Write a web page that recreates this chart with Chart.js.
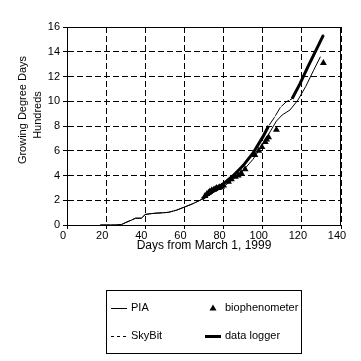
<!DOCTYPE html>
<html>
<head>
<meta charset="utf-8">
<script src="https://cdn.jsdelivr.net/npm/chart.js@4/dist/chart.umd.min.js"></script>
<style>
html,body{margin:0;padding:0;background:#fff;}
#grafica{display:block;}
</style>
</head>
<body>
<canvas id="grafica" width="361" height="361"></canvas>
<script>
// days from March 1, 1999 / growing degree days (hundreds)
var piaDays = [17,20,25,28,30,33,35,38,40,42,45,50,52,56,60,64,68,72,76,80,85,90,95,100,104,107,110,114,118,122,126,129.5];
var piaGdd  = [0,0,0,0.05,0.2,0.4,0.55,0.55,0.85,0.9,0.95,1.0,1.03,1.2,1.45,1.7,2.0,2.35,2.75,3.1,3.7,4.4,5.3,6.5,7.6,8.4,8.9,9.3,10.1,11.2,12.5,13.6];

var skyDays = [17,20,25,28,30,33,35,38,40,42,45,50,52,56,60,64,68,72,76,80,85,90,95,100,103,106,109,112,115,118,122,126,131];
var skyGdd  = [0,0,0,0.05,0.2,0.4,0.55,0.55,0.85,0.9,0.95,1.0,1.03,1.2,1.45,1.7,2.0,2.45,2.9,3.35,4.0,4.8,5.8,7.1,8.0,8.7,9.5,9.95,10.2,11.1,12.35,13.6,15.4];

var bioDays = [70.5,71.5,72.3,73,74,75,75.7,76.5,77.4,78,79,80,82.5,84,86,87.5,89,91,96,98,99.6,101.3,102,103,107,131];
var bioGdd  = [2.35,2.5,2.6,2.7,2.8,2.85,2.9,3.0,3.0,3.05,3.1,3.2,3.5,3.7,3.9,4.0,4.2,4.5,5.65,6.0,6.3,6.7,6.9,7.1,7.7,13.1];

var logDays = [69,72,76,80,85,90,95,100,103,109,115,119,123,127,131];
var logGdd  = [2.1,2.45,2.9,3.35,4.0,4.8,5.8,7.1,8.0,null,10.2,11.4,12.75,14.05,15.35];

var xTicks = [0,20,40,60,80,100,120,140];
var yTicks = [0,2,4,6,8,10,12,14,16];

function puntos(xs, ys){
	var arr = new Array();
	for (var i = 0; i < xs.length; i++){
		arr.push({x: xs[i], y: ys[i]});
	}
	return arr;
}

var FUENTE = "'Liberation Sans', Arial, sans-serif";

// marco, titulo del eje y, leyenda
var extras = {
	id: 'extras',
	afterDraw: function(chart){
		var ctx = chart.ctx;
		var a = chart.chartArea;
		ctx.save();
		ctx.strokeStyle = '#000';
		ctx.lineWidth = 1;
		ctx.setLineDash([]);
		ctx.strokeRect(Math.round(a.left)+0.5, Math.round(a.top)+0.5, Math.round(a.right-a.left)-1, Math.round(a.bottom-a.top));

		ctx.fillStyle = '#000';
		ctx.font = "11px " + FUENTE;
		ctx.textAlign = 'center';
		ctx.textBaseline = 'middle';
		ctx.save();
		ctx.translate(23, 110);
		ctx.rotate(-Math.PI/2);
		ctx.fillText('Growing Degree Days', 0, 0);
		ctx.restore();
		ctx.save();
		ctx.translate(38, 115);
		ctx.rotate(-Math.PI/2);
		ctx.fillText('Hundreds', 0, 0);
		ctx.restore();

		// leyenda
		ctx.strokeRect(106.5, 290.5, 195, 63);
		var ds = chart.data.datasets;
		ctx.font = "11px " + FUENTE;
		ctx.textAlign = 'left';
		var items = [
			{d: ds[0], x: 111, y: 308},
			{d: ds[2], x: 205, y: 308},
			{d: ds[1], x: 111, y: 336},
			{d: ds[3], x: 205, y: 336}
		];
		items.forEach(function(it){
			var d = it.d;
			if (d.showLine === false){
				ctx.beginPath();
				ctx.moveTo(it.x+8, it.y-3.5);
				ctx.lineTo(it.x+11.5, it.y+2.5);
				ctx.lineTo(it.x+4.5, it.y+2.5);
				ctx.closePath();
				ctx.fill();
			} else {
				ctx.beginPath();
				ctx.lineWidth = d.borderWidth;
				// muestra punteada de SkyBit como en el original
				ctx.setLineDash(d.borderDash ? [3,3] : []);
				ctx.moveTo(it.x, it.y+0.5);
				ctx.lineTo(it.x+16, it.y+0.5);
				ctx.stroke();
				ctx.setLineDash([]);
			}
			ctx.fillText(d.label, it.x+20, it.y);
		});
		ctx.restore();
	}
};

var config = {
	type: 'scatter',
	data: {
		datasets: [{
			label: 'PIA',
			data: puntos(piaDays, piaGdd),
			showLine: true,
			borderColor: '#000',
			borderWidth: 1,
			pointRadius: 0,
			tension: 0,
			order: 3
		},{
			label: 'SkyBit',
			data: puntos(skyDays, skyGdd),
			showLine: true,
			borderColor: '#000',
			borderWidth: 1,
			borderDash: [10,1],
			pointRadius: 0,
			tension: 0,
			order: 4
		},{
			label: 'biophenometer',
			data: puntos(bioDays, bioGdd),
			showLine: false,
			pointStyle: 'triangle',
			pointRadius: 4,
			pointBackgroundColor: '#000',
			pointBorderColor: '#000',
			pointBorderWidth: 0,
			order: 1
		},{
			label: 'data logger',
			data: puntos(logDays, logGdd),
			showLine: true,
			spanGaps: false,
			borderColor: '#000',
			borderWidth: 3,
			pointRadius: 0,
			tension: 0,
			order: 2
		}]
	},
	options: {
		responsive: false,
		animation: false,
		layout: {padding: {left: 0, top: 27, right: 20, bottom: 106}},
		plugins: {legend: {display: false}, tooltip: {enabled: false}},
		scales: {
			x: {
				type: 'linear',
				min: 0, max: 140,
				afterBuildTicks: function(s){ s.ticks = xTicks.map(function(v){ return {value: v}; }); },
				afterFit: function(s){ s.height = 30; },
				ticks: {color: '#000', font: {size: 11, family: FUENTE}, padding: 0, labelOffset: -4, maxRotation: 0},
				grid: {color: '#000', lineWidth: 1, tickLength: 4},
				border: {display: true, color: '#000', width: 1, dash: [6,3]},
				title: {display: true, text: 'Days from March 1, 1999', color: '#000', font: {size: 12, family: FUENTE}, padding: {top: 0, bottom: 2}}
			},
			y: {
				type: 'linear',
				min: 0, max: 16,
				afterBuildTicks: function(s){ s.ticks = yTicks.map(function(v){ return {value: v}; }); },
				afterFit: function(s){ s.width = 67; },
				ticks: {color: '#000', font: {size: 11, family: FUENTE}, padding: 3},
				grid: {color: '#000', lineWidth: 1, tickLength: 4},
				border: {display: true, color: '#000', width: 1, dash: [6,3]}
			}
		}
	},
	plugins: [extras]
};

new Chart(document.getElementById('grafica').getContext('2d'), config);
</script>
</body>
</html>
